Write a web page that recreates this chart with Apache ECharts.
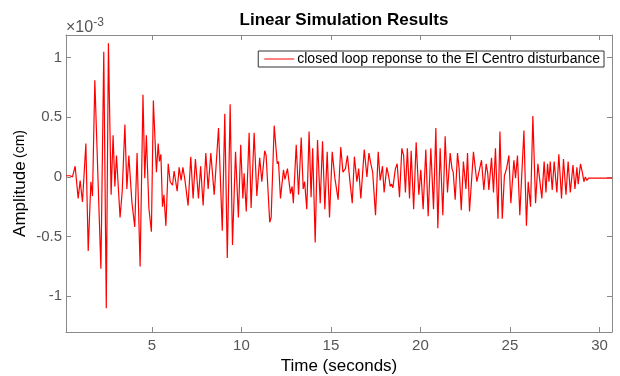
<!DOCTYPE html>
<html>
<head>
<meta charset="utf-8">
<script src="https://cdn.jsdelivr.net/npm/echarts@6/dist/echarts.min.js"></script>
<style>
html, body { margin: 0; padding: 0; background: #fff; }
#chart { width: 620px; height: 376px; }
</style>
</head>
<body>
<div id="chart"></div>
<script>
// Sample times of the closed-loop response (seconds)
const timeSec = [
  0.21,0.43,0.56,0.71,0.88,0.99,1.12,1.31,1.44,1.59,
  1.68,1.81,2.15,2.31,2.45,2.57,2.72,2.83,2.93,3.02,
  3.22,3.34,3.49,3.60,3.71,3.88,4.04,4.17,4.34,4.50,
  4.60,4.69,4.83,4.97,5.08,5.25,5.35,5.42,5.50,5.59,
  5.67,5.78,5.91,6.02,6.15,6.24,6.32,6.41,6.52,6.63,
  6.73,6.84,7.02,7.17,7.30,7.43,7.60,7.72,7.86,8.01,
  8.14,8.29,8.48,8.72,8.93,9.07,9.21,9.37,9.50,9.67,
  9.83,9.96,10.08,10.15,10.27,10.43,10.54,10.71,10.86,11.02,
  11.14,11.30,11.38,11.58,11.66,11.83,12.00,12.07,12.18,12.35,
  12.43,12.57,12.74,12.83,12.90,13.06,13.19,13.34,13.45,13.53,
  13.65,13.78,13.89,13.98,14.12,14.25,14.40,14.53,14.66,14.79,
  14.92,15.07,15.22,15.40,15.55,15.67,15.81,15.92,16.05,16.19,
  16.31,16.45,16.55,16.67,16.86,17.01,17.12,17.23,17.33,17.49,
  17.64,17.75,17.88,17.97,18.12,18.22,18.31,18.38,18.46,18.60,
  18.70,18.83,18.96,19.06,19.16,19.27,19.39,19.48,19.62,19.76,
  19.91,20.02,20.15,20.30,20.43,20.58,20.73,20.86,20.97,21.10,
  21.25,21.38,21.51,21.66,21.76,21.83,21.94,22.07,22.16,22.28,
  22.40,22.54,22.63,22.74,22.96,23.15,23.26,23.41,23.54,23.67,
  23.76,23.82,23.97,24.08,24.19,24.33,24.44,24.57,24.69,24.81,
  24.94,25.05,25.22,25.31,25.42,25.55,25.78,25.92,26.02,26.15,
  26.28,26.43,26.56,26.78,26.91,27.01,27.10,27.18,27.25,27.36,
  27.47,27.62,27.73,27.88,27.99,28.13,28.25,28.37,28.52,28.63,
  28.74,28.81,28.94,29.04,29.13,29.21,29.30,29.39,29.48,29.76,
  30.04,30.71
];

// Response amplitude, in units of 1e-3 cm
const amplitude = [
  0.01,0.01,0.00,0.09,-0.18,-0.03,-0.21,0.28,-0.62,-0.04,
  -0.16,0.81,-0.77,1.05,-1.10,1.12,-0.15,0.35,-0.08,0.18,
  -0.34,-0.12,0.44,-0.10,0.18,-0.21,-0.42,0.20,-0.75,0.69,
  -0.01,0.35,-0.26,-0.46,0.64,0.04,0.28,0.13,0.19,-0.25,
  -0.15,-0.41,0.11,-0.04,-0.07,0.05,0.04,-0.12,0.08,-0.03,
  0.08,-0.02,-0.24,0.17,-0.18,0.15,-0.18,0.09,-0.24,0.20,
  -0.10,0.20,-0.15,0.41,-0.45,0.53,-0.68,0.61,-0.57,0.21,
  -0.34,0.27,-0.18,0.03,-0.29,0.37,-0.26,0.37,-0.16,0.16,
  -0.04,0.22,0.18,-0.38,-0.34,0.43,0.11,0.13,-0.18,0.06,
  -0.02,0.07,-0.14,-0.08,-0.22,0.27,-0.15,0.33,-0.10,-0.04,
  -0.27,0.38,-0.17,0.24,-0.55,0.31,-0.22,0.30,-0.27,0.21,
  -0.34,0.21,-0.01,-0.19,0.25,0.04,0.07,0.18,-0.02,-0.22,
  0.17,-0.04,0.07,-0.18,0.23,0.00,0.20,0.11,0.04,-0.32,
  0.21,-0.03,0.09,-0.13,0.08,0.01,-0.08,-0.06,-0.09,0.07,
  0.11,-0.17,0.24,0.18,-0.13,0.24,-0.18,0.22,-0.27,0.29,
  -0.15,0.06,-0.27,0.23,-0.33,0.24,-0.27,0.41,-0.43,0.24,
  -0.32,0.34,-0.13,0.20,0.07,0.04,-0.19,0.20,0.07,-0.28,
  0.13,-0.10,0.20,-0.29,0.21,-0.04,-0.04,0.14,-0.11,0.11,
  0.03,-0.11,0.16,-0.13,0.24,-0.35,0.38,-0.35,0.01,0.07,
  0.18,-0.22,0.14,-0.01,0.18,-0.32,0.39,-0.41,-0.04,-0.25,
  0.51,-0.22,0.11,-0.18,0.13,-0.13,0.11,-0.04,0.13,-0.11,
  0.13,-0.13,0.19,-0.18,0.15,-0.15,0.13,-0.13,0.10,-0.10,
  0.08,-0.06,0.11,0.04,-0.04,0.00,-0.03,-0.01,-0.02,-0.01,
  -0.01,-0.01
];

const xTicks = [5, 10, 15, 20, 25, 30];
const yTicks = [-1, -0.5, 0, 0.5, 1];
const xRange = [0.2, 30.7];
const yRange = [-1.3, 1.19];

const seriesName = 'closed loop reponse to the El Centro disturbance';
const FONT = '"Liberation Sans", Arial, Helvetica, sans-serif';
const AXIS_COLOR = '#8a8a8a';
const LABEL_COLOR = '#555555';

const points = timeSec.map((t, i) => [t, amplitude[i]]);

const chart = echarts.init(document.getElementById('chart'), null, { renderer: 'canvas' });

function xAxisDef(pos, showLabels) {
  return {
    type: 'value', position: pos, min: xRange[0], max: xRange[1],
    axisLine: { show: true, onZero: false, lineStyle: { color: AXIS_COLOR, width: 1 } },
    axisTick: { show: true, inside: true, length: 5, customValues: xTicks, lineStyle: { color: AXIS_COLOR } },
    axisLabel: { show: showLabels, customValues: xTicks, color: LABEL_COLOR, fontFamily: FONT, fontSize: 15, margin: 6 },
    splitLine: { show: false }
  };
}
function yAxisDef(pos, showLabels) {
  return {
    type: 'value', position: pos, min: yRange[0], max: yRange[1],
    axisLine: { show: true, onZero: false, lineStyle: { color: AXIS_COLOR, width: 1 } },
    axisTick: { show: true, inside: true, length: 5, customValues: yTicks, lineStyle: { color: AXIS_COLOR } },
    axisLabel: { show: showLabels, customValues: yTicks, color: LABEL_COLOR, fontFamily: FONT, fontSize: 15, margin: 4,
      formatter: v => String(v) },
    splitLine: { show: false }
  };
}

const bottomX = xAxisDef('bottom', true);
bottomX.name = 'Time (seconds)';
bottomX.nameLocation = 'middle';
bottomX.nameGap = 20;
bottomX.nameTextStyle = { color: '#000', fontFamily: FONT, fontSize: 17 };

const leftY = yAxisDef('left', true);
leftY.name = '{big|Amplitude} {small|(cm)}';
leftY.nameLocation = 'middle';
leftY.nameGap = 37;
leftY.nameMoveOverlap = false;
leftY.nameTextStyle = {
  color: '#000', fontFamily: FONT,
  rich: {
    big: { fontSize: 17, fontFamily: FONT, color: '#000' },
    small: { fontSize: 14, fontFamily: FONT, color: '#000' }
  }
};

const option = {
  backgroundColor: '#fff',
  animation: false,
  title: {
    text: 'Linear Simulation Results',
    left: 339, top: 7, textAlign: 'center',
    textStyle: { fontFamily: FONT, fontSize: 17, fontWeight: 'bold', color: '#000' }
  },
  legend: {
    right: 16, top: 51,
    data: [{ name: seriesName, icon: 'path://M0,0 L30,0 L30,1 L0,1 Z' }],
    itemWidth: 30, itemHeight: 1, itemGap: 4,
    padding: [1, 4, 1, 6],
    backgroundColor: '#fff',
    borderColor: '#333', borderWidth: 1, borderRadius: 0,
    textStyle: { fontFamily: FONT, fontSize: 14, color: '#000', padding: [0, 0, 0, -2] }
  },
  grid: { left: 66, right: 8, top: 35, bottom: 44, containLabel: false, outerBoundsMode: 'none' },
  xAxis: [bottomX, xAxisDef('top', false)],
  yAxis: [leftY, yAxisDef('right', false)],
  graphic: [{
    type: 'text', left: 66, top: 17,
    style: {
      text: '×10{sup|-3}',
      fill: LABEL_COLOR, font: '16px ' + FONT,
      rich: { sup: { fontSize: 12, fontFamily: FONT, fill: LABEL_COLOR, verticalAlign: 'top', padding: [0, 0, 9, 0] } }
    }
  }],
  series: [{
    name: seriesName,
    type: 'line',
    data: points,
    symbol: 'none',
    showSymbol: false,
    smooth: false,
    lineStyle: { color: '#ff0000', width: 1.2 },
    itemStyle: { color: '#ff0000' },
    clip: true
  }]
};

chart.setOption(option);
</script>
</body>
</html>
